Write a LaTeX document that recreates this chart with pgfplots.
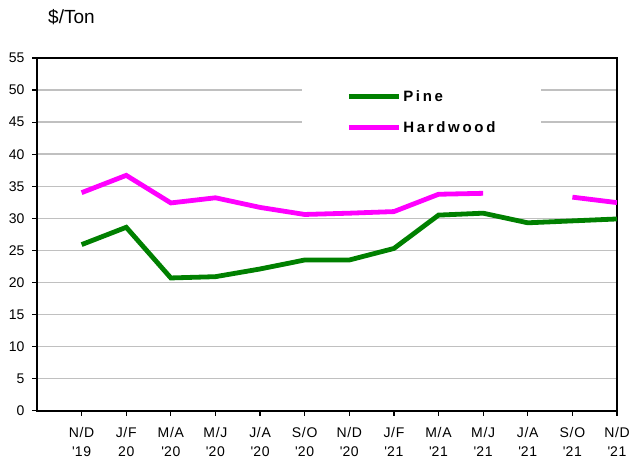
\documentclass[border=0pt]{standalone}
\usepackage{fontspec}
\setmainfont{Liberation Sans}
\usepackage{pgfplots}
\pgfplotsset{compat=1.18}
\newfontfamily\legfont[LetterSpace=18]{Liberation Sans}
\newfontfamily\xfont[LetterSpace=5]{Liberation Sans}
\definecolor{pinegreen}{RGB}{0,128,0}
\definecolor{hwmag}{RGB}{255,0,255}
\definecolor{gridgray}{RGB}{192,192,192}
\begin{document}
\begin{tikzpicture}
\begin{axis}[
  scale only axis,
  width=580pt, height=352.7pt,
  xmin=-1, xmax=12, ymin=0, ymax=55,
  xtick={0,...,12},
  xticklabels={N/D\\\textquotesingle19, J/F\\20, M/A\\\textquotesingle20, M/J\\\textquotesingle20, J/A\\\textquotesingle20, S/O\\\textquotesingle20, N/D\\\textquotesingle20, J/F\\\textquotesingle21, M/A\\\textquotesingle21, M/J\\\textquotesingle21, J/A\\\textquotesingle21, S/O\\\textquotesingle21, N/D\\\textquotesingle21},
  xticklabel style={align=center, font=\xfont\fontsize{14}{19}\selectfont, yshift=-8pt},
  ytick={0,5,...,55},
  yticklabel style={font=\fontsize{14}{16}\selectfont, xshift=-4pt},
  /pgf/number format/assume math mode=true,
  tick align=outside,
  major tick length=5pt,
  tick style={black, line width=1.2pt},
  xtick pos=bottom, ytick pos=left,
  axis line style={black, line width=1.6pt},
  ymajorgrids,
  grid style={gridgray, line width=1.4pt},
  unbounded coords=jump,
  legend style={draw=none, fill=white, at={(rel axis cs:0.457,0.943)}, anchor=north west,
    font=\legfont\bfseries\fontsize{15}{17}\selectfont, inner xsep=44pt, inner ysep=10pt,
    row sep=15pt},
  legend cell align=left,
  legend image code/.code={\draw[#1, line width=5pt] (0pt,0pt) -- (50pt,0pt);},
]
\addplot[pinegreen, line width=4.8pt] coordinates {
 (0,25.9) (1,28.6) (2,20.7) (3,20.9) (4,22.1) (5,23.5) (6,23.5) (7,25.3) (8,30.5) (9,30.8) (10,29.3) (11,29.6) (12,29.9)};
\addlegendentry{Pine}
\addplot[hwmag, line width=4.8pt] coordinates {
 (0,34.0) (1,36.7) (2,32.4) (3,33.2) (4,31.7) (5,30.6) (6,30.8) (7,31.05) (8,33.75) (9,33.9) (10,nan) (11,33.3) (12,32.45)};
\addlegendentry{Hardwood}
\end{axis}
\node[anchor=west, font=\fontsize{19}{22}\selectfont, inner sep=0pt] at ([shift={(11pt,41pt)}]current axis.north west) {\$/Ton};
\pgfresetboundingbox
\path ([shift={(-37pt,-49.3pt)}]current axis.south west) rectangle ([shift={(14pt,58pt)}]current axis.north east);
\end{tikzpicture}
\end{document}
